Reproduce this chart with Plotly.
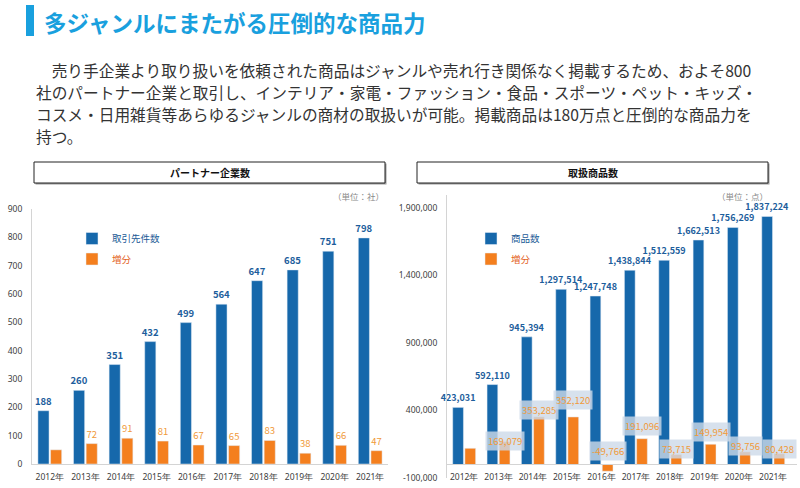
import plotly.graph_objects as go

W, H = 800, 488

# ---------------- data ----------------
years = ["2012年", "2013年", "2014年", "2015年", "2016年",
         "2017年", "2018年", "2019年", "2020年", "2021年"]

partners = [188, 260, 351, 432, 499, 564, 647, 685, 751, 798]
partner_increase = [50, 72, 91, 81, 67, 65, 83, 38, 66, 47]   # 2012 unlabeled (estimated)

items = [423031, 592110, 945394, 1297514, 1247748,
         1438844, 1512559, 1662513, 1756269, 1837224]
item_increase = [120000, 169079, 353285, 352120, -49766,
                 191096, 73715, 149954, 93756, 80428]          # 2012 unlabeled (estimated)

left_ticks = [0, 100, 200, 300, 400, 500, 600, 700, 800, 900]
right_ticks = [-100000, 400000, 900000, 1400000, 1900000]

title_text = "多ジャンルにまたがる圧倒的な商品力"
body_lines = [
    "　売り手企業より取り扱いを依頼された商品はジャンルや売れ行き関係なく掲載するため、およそ800",
    "社のパートナー企業と取引し、インテリア・家電・ファッション・食品・スポーツ・ペット・キッズ・",
    "コスメ・日用雑貨等あらゆるジャンルの商材の取扱いが可能。掲載商品は180万点と圧倒的な商品力を",
    "持つ。",
]

# ---------------- style ----------------
BLUE = "#1668ab"
ORANGE = "#f47f1e"
BLUE_TXT = "#1d5e9c"
ORANGE_TXT = "#f09a3a"
ACCENT = "#19a0de"
FONT = "Noto Sans CJK JP"
NUM_FONT = "Noto Sans CJK JP"
TICK_FONT = "Noto Sans"
# pixel lift of the boxed increase labels above their bar tops (right chart, 2013..2021)
ORANGE_LABEL_LIFT = [1, 7, 17, 14, 13, 6, 12, 6, 5]


def px(x):
    return x / W


def py(y):
    return 1 - y / H


fig = go.Figure()

# left chart
fig.add_trace(go.Bar(
    x=years, y=partners, name="取引先件数", marker_color=BLUE,
    text=[str(v) for v in partners], textposition="outside",
    textfont=dict(family=NUM_FONT, size=9.5, color=BLUE_TXT, weight="bold"),
    cliponaxis=False, constraintext="none",
    xaxis="x", yaxis="y", legend="legend", legendgroup="a",
))
fig.add_trace(go.Bar(
    x=years, y=partner_increase,
    name="<span style='color:#e3621c'>増分</span>", marker_color=ORANGE,
    text=[""] + [str(v) for v in partner_increase[1:]], textposition="outside",
    textfont=dict(family=NUM_FONT, size=9.5, color=ORANGE_TXT),
    cliponaxis=False, constraintext="none",
    xaxis="x", yaxis="y", legend="legend", legendgroup="b",
))

# right chart
fig.add_trace(go.Bar(
    x=years, y=items, name="商品数", marker_color=BLUE,
    text=[f"{v:,}" for v in items], textposition="outside",
    textfont=dict(family=NUM_FONT, size=9, color=BLUE_TXT, weight="bold"),
    cliponaxis=False, constraintext="none",
    xaxis="x2", yaxis="y2", legend="legend2", legendgroup="c",
))
fig.add_trace(go.Bar(
    x=years, y=item_increase,
    name="<span style='color:#e3621c'>増分</span>", marker_color=ORANGE,
    cliponaxis=False,
    xaxis="x2", yaxis="y2", legend="legend2", legendgroup="d",
))

annotations = []
shapes = []

# boxed increase labels (right chart)
for i, (yr, v) in enumerate(zip(years[1:], item_increase[1:])):
    annotations.append(dict(
        x=yr, y=max(v, 0), xref="x2", yref="y2",
        text=f"{v:,}", showarrow=False,
        xshift=6.25, yshift=ORANGE_LABEL_LIFT[i], yanchor="middle",
        font=dict(family=NUM_FONT, size=9.5, color=ORANGE_TXT),
        bgcolor="rgba(205,217,232,0.8)", borderpad=2,
    ))

# title
shapes.append(dict(type="rect", xref="paper", yref="paper",
                   x0=px(26), x1=px(34), y0=py(36), y1=py(5),
                   fillcolor=ACCENT, line=dict(width=0)))
annotations.append(dict(x=px(42), y=py(22), xref="paper", yref="paper",
                        xanchor="left", yanchor="middle", showarrow=False,
                        text=title_text,
                        font=dict(family=FONT, size=22.5, color=ACCENT, weight="bold")))

# paragraph
for k, line in enumerate(body_lines):
    annotations.append(dict(x=px(34), y=py(70 + 22.3 * k), xref="paper", yref="paper",
                            xanchor="left", yanchor="middle", showarrow=False,
                            text=line,
                            font=dict(family=FONT, size=15.7, color="#333333")))

# chart header boxes
for (x0, x1, label) in [(34, 385, "パートナー企業数"), (417, 768, "取扱商品数")]:
    shapes.append(dict(type="rect", xref="paper", yref="paper",
                       x0=px(x0 + 1.5), x1=px(x1 + 1.5), y0=py(184.5), y1=py(163.5),
                       fillcolor="#9a9a9a", line=dict(width=0)))
    shapes.append(dict(type="rect", xref="paper", yref="paper",
                       x0=px(x0), x1=px(x1), y0=py(183), y1=py(162),
                       fillcolor="white", line=dict(color="#222222", width=1)))
    annotations.append(dict(x=px((x0 + x1) / 2), y=py(172.5), xref="paper", yref="paper",
                            xanchor="center", yanchor="middle", showarrow=False,
                            text=label,
                            font=dict(family=FONT, size=10, color="#111111", weight="bold")))

# unit labels
for (xr, label) in [(386, "（単位：社）"), (770, "（単位：点）")]:
    annotations.append(dict(x=px(xr), y=py(196), xref="paper", yref="paper",
                            xanchor="right", yanchor="middle", showarrow=False,
                            text=label,
                            font=dict(family=FONT, size=8.5, color="#8a8a8a")))

axis_common = dict(showgrid=False, zeroline=False, showline=True,
                   linecolor="#d4d4d4", linewidth=1, ticks="", automargin=False,
                   tickfont=dict(family=TICK_FONT, size=8.5, color="#404040"))

legend_common = dict(xanchor="left", yanchor="top", bgcolor="rgba(0,0,0,0)",
                     traceorder="grouped", tracegroupgap=1.5,
                     font=dict(family=FONT, size=9.5, color="#1a5a96"))

fig.update_layout(
    width=W, height=H,
    margin=dict(l=0, r=0, t=0, b=0, autoexpand=False),
    paper_bgcolor="white", plot_bgcolor="white",
    barmode="group", bargap=0.29, bargroupgap=0.12,
    showlegend=True,
    xaxis=dict(domain=[px(32), px(388)], type="category", anchor="y",
               ticklabelstandoff=5, **axis_common),
    yaxis=dict(domain=[py(464), py(209)], range=[0, 900], anchor="x",
               tickmode="array", tickvals=left_ticks,
               ticktext=[str(v) for v in left_ticks],
               ticklabelstandoff=7, **axis_common),
    xaxis2=dict(domain=[px(447), px(797)], type="category", anchor="free",
                position=py(464), ticklabelstandoff=5, **axis_common),
    yaxis2=dict(domain=[py(478), py(194.5)], range=[-100000, 2000000], anchor="x2",
                tickmode="array", tickvals=right_ticks,
                ticktext=[f"{v:,}" for v in right_ticks],
                ticklabelstandoff=7, **axis_common),
    legend=dict(x=px(72), y=py(224), **legend_common),
    legend2=dict(x=px(471), y=py(224), **legend_common),
    annotations=annotations,
    shapes=shapes,
)

fig.write_html("out.html",
               config={"displayModeBar": False},
               post_script="document.body.style.margin='0';document.body.style.padding='0';")
